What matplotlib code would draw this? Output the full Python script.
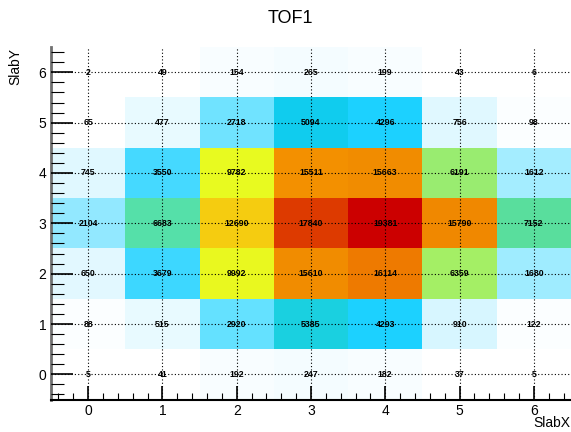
import numpy as np
import matplotlib
matplotlib.use("Agg")
import matplotlib.pyplot as plt
from matplotlib.colors import LinearSegmentedColormap
from matplotlib.ticker import MultipleLocator

# bin centres
slab_x = [0, 1, 2, 3, 4, 5, 6]
slab_y = [0, 1, 2, 3, 4, 5, 6]

# counts per row, row index = SlabY
row0 = [5, 41, 192, 247, 182, 37, 5]
row1 = [88, 515, 2920, 5385, 4293, 910, 122]
row2 = [650, 3679, 9992, 15610, 16114, 6359, 1680]
row3 = [2104, 6683, 12690, 17840, 19381, 15790, 7152]
row4 = [745, 3550, 9782, 15511, 15663, 6191, 1612]
row5 = [65, 477, 2718, 5094, 4296, 756, 98]
row6 = [2, 49, 154, 265, 199, 43, 6]

counts = np.array([row0, row1, row2, row3, row4, row5, row6])
zmax = counts.max()

# palette nodes (count, colour) picked to look like the root canvas
nodes = [(0, "#ffffff"), (100, "#fafeff"), (250, "#f3fcff"), (500, "#e6f9ff"),
         (900, "#d8f6ff"), (1650, "#a0ecff"), (2100, "#90e8ff"), (2800, "#68e2ff"),
         (3600, "#40d8ff"), (4300, "#1ad0ff"), (5100, "#10ccee"), (5400, "#1ad0e0"),
         (6200, "#a0ee6a"), (6400, "#a8f060"), (6650, "#55e0aa"), (7200, "#5ade9c"),
         (9800, "#e8fa20"), (12700, "#f5cc10"), (15500, "#f39000"), (15800, "#f08800"),
         (16150, "#ee7800"), (17850, "#dd3a00"), (zmax, "#cc0000")]
cmap = LinearSegmentedColormap.from_list("tof", [(v / zmax, c) for v, c in nodes])

fig = plt.figure(figsize=(5.71, 4.32), dpi=100)
ax = fig.add_axes([0.0893, 0.0752, 0.9107, 0.8157])

xe = np.arange(len(slab_x) + 1) - 0.5
ye = np.arange(len(slab_y) + 1) - 0.5
ax.pcolormesh(xe, ye, counts, cmap=cmap, vmin=0, vmax=zmax)

for j, y in enumerate(slab_y):
	for i, x in enumerate(slab_x):
		ax.text(x, y, str(counts[j, i]), ha="center", va="center",
			fontsize=6.3, fontweight="bold", family="Liberation Sans")

ax.set_xlim(-0.5, 6.5)
ax.set_ylim(-0.5, 6.5)
ax.xaxis.set_major_locator(MultipleLocator(1))
ax.yaxis.set_major_locator(MultipleLocator(1))
ax.xaxis.set_minor_locator(MultipleLocator(0.2))
ax.yaxis.set_minor_locator(MultipleLocator(0.2))
ax.set_axisbelow(False)
ax.grid(True, which="major", ls=(0, (1, 2)), color="black", lw=0.8)
ax.tick_params(which="major", direction="in", length=10, width=1.2, labelsize=10)
ax.tick_params(axis="y", which="major", length=16)
ax.tick_params(which="minor", direction="in", length=5, width=0.8)
ax.tick_params(axis="y", which="minor", length=9)
for lab in ax.get_xticklabels() + ax.get_yticklabels():
	lab.set_family("Liberation Sans")

for s in ["top", "right"]:
	ax.spines[s].set_visible(False)
ax.spines["left"].set_color("#707070")
ax.spines["left"].set_linewidth(2)
ax.spines["bottom"].set_linewidth(1.5)

fig.text(0.508, 0.958, "TOF1", ha="center", va="center", fontsize=13, family="Liberation Sans")
fig.text(0.998, 0.02, "SlabX", ha="right", va="center", fontsize=10, family="Liberation Sans")
fig.text(0.026, 0.89, "SlabY", ha="center", va="top", rotation=90, fontsize=10, family="Liberation Sans")

fig.savefig("out.png", dpi=100)
